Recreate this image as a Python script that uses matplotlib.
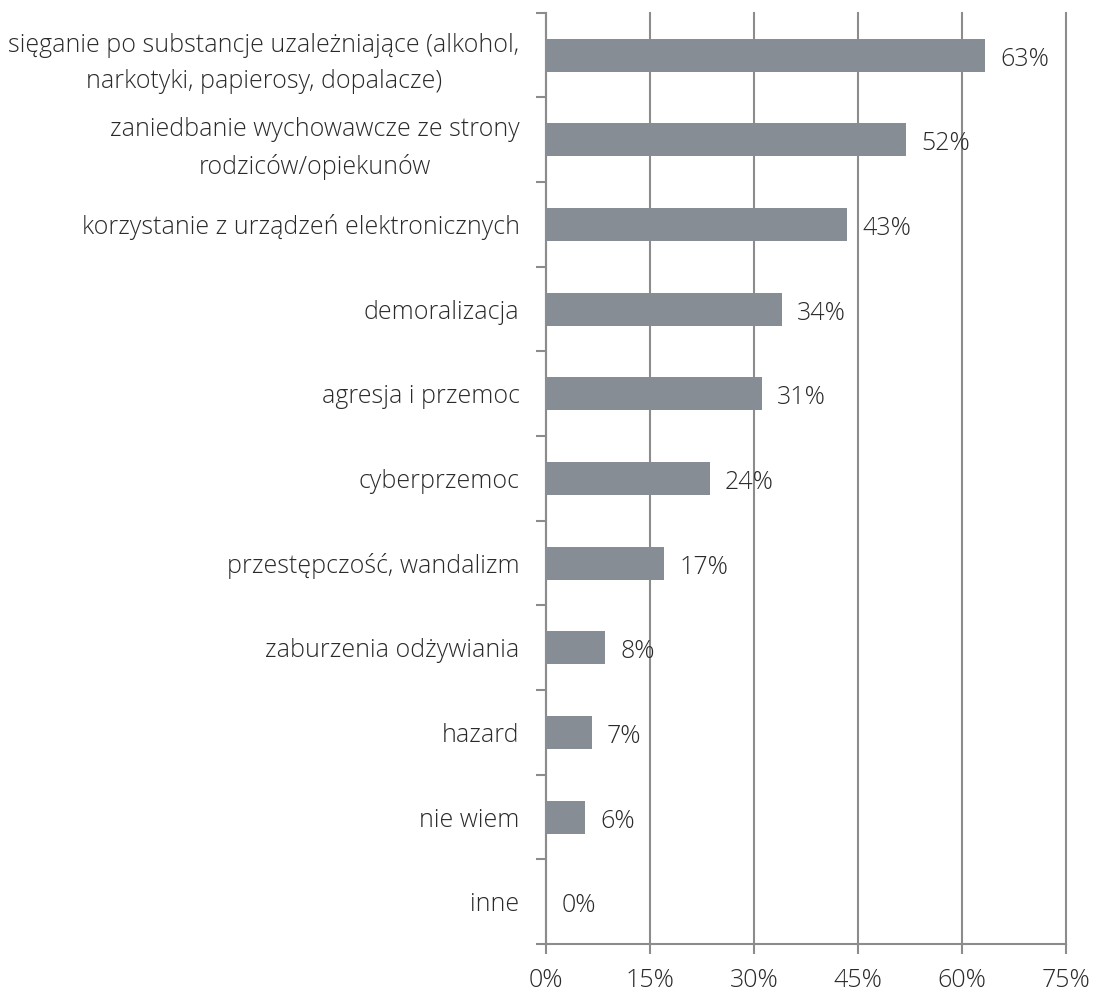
import numpy as np
import matplotlib.pyplot as plt

# categories listed top to bottom
categories = [
    "sięganie po substancje uzależniające (alkohol,\nnarkotyki, papierosy, dopalacze)",
    "zaniedbanie wychowawcze ze strony\nrodziców/opiekunów",
    "korzystanie z urządzeń elektronicznych",
    "demoralizacja",
    "agresja i przemoc",
    "cyberprzemoc",
    "przestępczość, wandalizm",
    "zaburzenia odżywiania",
    "hazard",
    "nie wiem",
    "inne",
]
values = [63.3, 51.9, 43.4, 34.0, 31.1, 23.6, 17.0, 8.5, 6.6, 5.7, 0.0]
xticks = [0, 15, 30, 45, 60, 75]

plt.rcParams["font.family"] = ["Open Sans", "DejaVu Sans"]

text_color = "#2a2a2a"
line_color = "#8c8c8c"
bar_color = "#878d94"
fs = 18

fig = plt.figure(figsize=(10.94, 9.94), dpi=100)
ax = fig.add_axes([0.499, 0.0503, 0.4755, 0.9369])

n = len(categories)
y = np.arange(n)
ax.barh(y, values, height=0.39, color=bar_color, zorder=3)

for yi, v in zip(y, values):
    ax.annotate(f"{round(v):.0f}%", (v, yi), xytext=(11, -3), textcoords="offset points",
                va="center", ha="left", fontsize=fs, color=text_color,
                fontweight="light", zorder=4)

ax.set_xlim(0, 75)
ax.set_ylim(n - 0.5, -0.5)
ax.set_xticks(xticks)
ax.set_xticklabels([f"{t}%" for t in xticks], fontsize=fs, color=text_color, fontweight="light")
ax.xaxis.grid(True, color=line_color, linewidth=1.5, zorder=0)
for gl in ax.get_xgridlines():
    gl.set_clip_on(False)

# category boundary ticks on the y axis
ax.set_yticks(np.arange(n + 1) - 0.5)
ax.set_yticklabels([])
ax.set_yticks(y, minor=True)
ax.set_yticklabels(categories, minor=True, fontsize=fs, color=text_color,
                   fontweight="light", multialignment="center", linespacing=1.6)
ax.tick_params(axis="y", which="minor", length=0, pad=19)
ax.tick_params(axis="y", which="major", length=7, width=1.5, color=line_color)
ax.tick_params(axis="x", length=7, width=1.5, color=line_color, pad=10)

for side in ["top", "right"]:
    ax.spines[side].set_visible(False)
for side in ["left", "bottom"]:
    ax.spines[side].set_color(line_color)
    ax.spines[side].set_linewidth(1.5)

fig.savefig("out.png", dpi=100)
